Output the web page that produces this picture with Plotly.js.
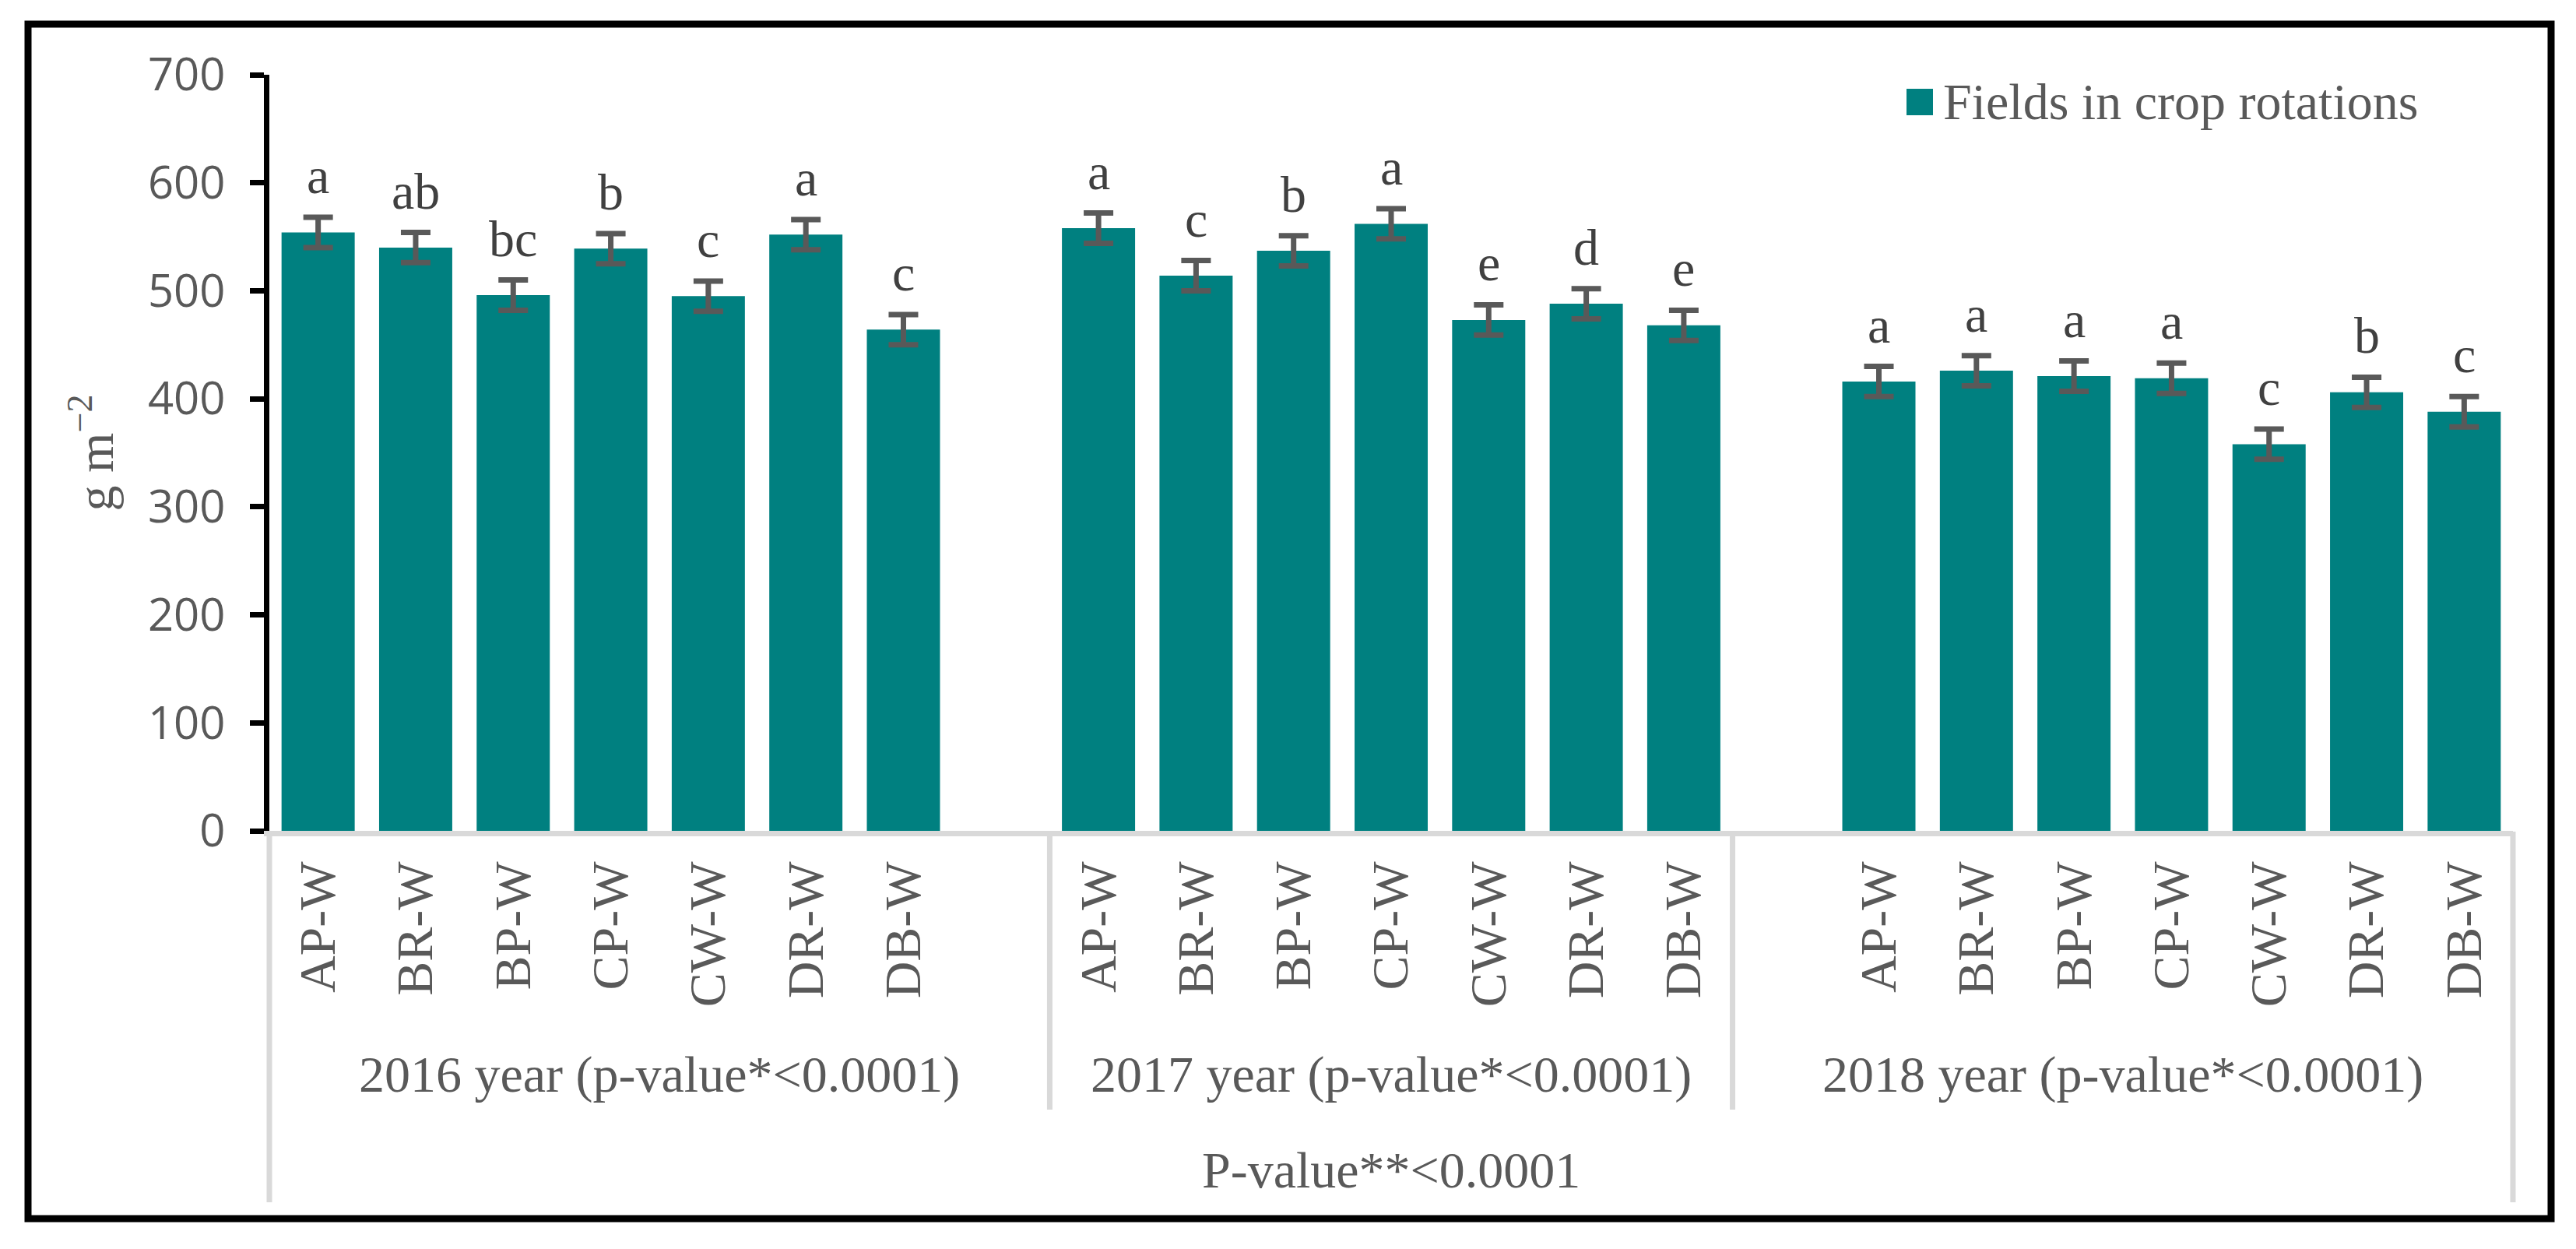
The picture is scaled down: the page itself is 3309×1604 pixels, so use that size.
<!DOCTYPE html>
<html>
<head>
<meta charset="utf-8">
<script src="https://cdn.plot.ly/plotly-3.0.1.min.js"></script>
<style>html,body{margin:0;padding:0;background:#fff;}#chart{width:3309px;height:1604px;}</style>
</head>
<body>
<div id="chart"></div>
<script>
// ---- data ----
const categories = ["AP-W", "BR-W", "BP-W", "CP-W", "CW-W", "DR-W", "DB-W"];
const years = ["2016 year (p-value*<0.0001)", "2017 year (p-value*<0.0001)", "2018 year (p-value*<0.0001)"];
const values2016 = [554, 540, 496, 539, 495, 552, 464];
const values2017 = [558, 514, 537, 562, 473, 488, 468];
const values2018 = [416, 426, 421, 419, 358, 406, 388];
const errors2016 = [14, 14, 14, 14, 14, 14, 14];
const errors2017 = [14, 14, 14, 14, 14, 14, 14];
const errors2018 = [14, 14, 14, 14, 14, 14, 14];
const letters2016 = ["a", "ab", "bc", "b", "c", "a", "c"];
const letters2017 = ["a", "c", "b", "a", "e", "d", "e"];
const letters2018 = ["a", "a", "a", "a", "c", "b", "c"];
const seriesName = "Fields in crop rotations";
const overallLabel = "P-value**<0.0001";
const yTitle = "g m<sup>−2</sup>";

// ---- layout geometry ----
const W = 3309, H = 1604;
const M = {l: 346, r: 81, t: 96, b: 537};
const PW = W - M.l - M.r, PH = H - M.t - M.b;
const px2paperX = px => (px - M.l) / PW;
const py2paperY = py => (H - M.b - py) / PH;
const nSlots = 23;
const slot2paper = s => (s + 0.5) / nSlots;
const groupOffsets = [0, 8, 16];
const groupBounds = [[-0.5, 7.5], [7.5, 14.5], [14.5, 22.5]];

const allValues = [values2016, values2017, values2018];
const allErrors = [errors2016, errors2017, errors2018];
const allLetters = [letters2016, letters2017, letters2018];

const xs = [], ys = [], es = [], tickvals = [], ticktext = [];
allValues.forEach((vals, g) => {
  vals.forEach((v, i) => {
    const x = groupOffsets[g] + i;
    xs.push(x); ys.push(v); es.push(allErrors[g][i]);
    tickvals.push(x); ticktext.push(categories[i]);
  });
});

const serif = "'Liberation Serif', 'Times New Roman', serif";
const grey = "#595959";

const trace = {
  type: "bar",
  x: xs, y: ys, name: seriesName,
  width: 0.75,
  marker: {color: "#008080"},
  error_y: {type: "data", array: es, visible: true, color: grey, thickness: 7, width: 19},
  showlegend: false,
  hoverinfo: "x+y"
};

const annotations = [];
// significance letters
allValues.forEach((vals, g) => {
  vals.forEach((v, i) => {
    annotations.push({
      x: groupOffsets[g] + i, y: v + allErrors[g][i], xref: "x", yref: "y",
      text: allLetters[g][i], showarrow: false, yanchor: "bottom", yshift: 15,
      font: {family: serif, size: 66, color: "#404040"}
    });
  });
});
// year group labels
years.forEach((t, g) => {
  const c = (groupBounds[g][0] + groupBounds[g][1]) / 2;
  annotations.push({
    x: slot2paper(c), y: py2paperY(1380), xref: "paper", yref: "paper",
    text: t, showarrow: false, xanchor: "center", yanchor: "middle",
    font: {family: serif, size: 66, color: grey}
  });
});
annotations.push({
  x: slot2paper(11), y: py2paperY(1502), xref: "paper", yref: "paper",
  text: overallLabel, showarrow: false, xanchor: "center", yanchor: "middle",
  font: {family: serif, size: 66, color: grey}
});
// legend text
annotations.push({
  x: px2paperX(2494), y: py2paperY(131), xref: "paper", yref: "paper",
  text: seriesName, showarrow: false, xanchor: "left", yanchor: "middle",
  font: {family: serif, size: 66, color: grey}
});

const shapes = [];
const lineGrey = "#d9d9d9";
// outer category-axis lines
[[-0.5, 1544], [22.5, 1544], [7.5, 1425], [14.5, 1425]].forEach(([s, bottom]) => {
  shapes.push({type: "line", xref: "paper", yref: "paper",
    x0: slot2paper(s), x1: slot2paper(s), y0: py2paperY(1068), y1: py2paperY(bottom),
    line: {color: lineGrey, width: 7}});
});
// legend swatch
shapes.push({type: "rect", xref: "paper", yref: "paper",
  x0: px2paperX(2449), x1: px2paperX(2483), y0: py2paperY(148), y1: py2paperY(114),
  fillcolor: "#008080", line: {width: 0}});
// outer frame
shapes.push({type: "rect", xref: "paper", yref: "paper",
  x0: px2paperX(36), x1: px2paperX(3277), y0: py2paperY(1565), y1: py2paperY(31),
  line: {color: "#000", width: 9}, fillcolor: "rgba(0,0,0,0)"});

const layout = {
  width: W, height: H,
  margin: M,
  paper_bgcolor: "#fff", plot_bgcolor: "#fff",
  showlegend: false,
  bargap: 0.25,
  xaxis: {
    range: [-0.5, 22.5], tickvals: tickvals, ticktext: ticktext,
    tickangle: -90, ticks: "", showgrid: false, zeroline: false,
    showline: true, linecolor: lineGrey, linewidth: 7,
    tickfont: {family: serif, size: 66, color: grey},
    ticklabelstandoff: 6
  },
  yaxis: {
    range: [0, 700], dtick: 100, tick0: 0, showgrid: false, zeroline: false,
    showline: true, linecolor: "#000", linewidth: 7,
    ticks: "outside", ticklen: 18, tickwidth: 7, tickcolor: "#000",
    tickfont: {family: "'Open Sans', 'Noto Sans', sans-serif", size: 58, color: grey},
    ticklabelstandoff: 20,
    title: {text: yTitle, font: {family: serif, size: 66, color: grey}, standoff: 25}
  },
  annotations: annotations,
  shapes: shapes
};

Plotly.newPlot("chart", [trace], layout, {displayModeBar: false, staticPlot: true});
</script>
</body>
</html>
